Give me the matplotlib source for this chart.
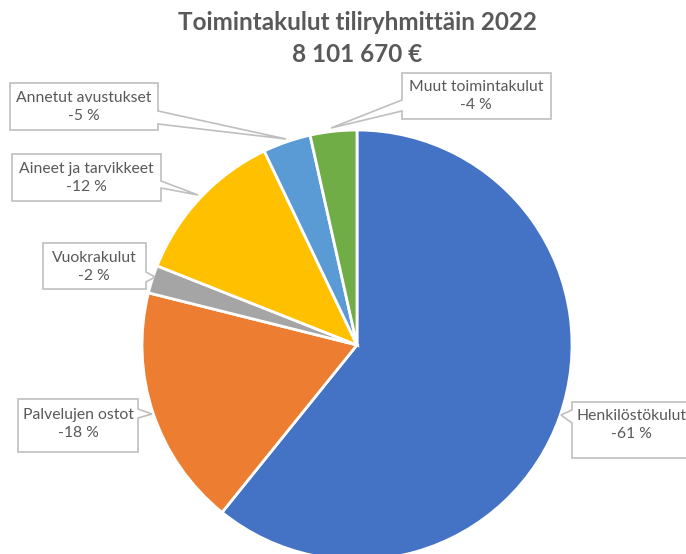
import matplotlib
matplotlib.use("Agg")
import matplotlib.pyplot as plt
from matplotlib.patches import Polygon

categories = ["Henkilöstökulut", "Palvelujen ostot", "Vuokrakulut",
              "Aineet ja tarvikkeet", "Annetut avustukset", "Muut toimintakulut"]
# slice sizes (share of total, %)
values = [60.8, 18.1, 2.1, 11.9, 3.6, 3.5]
pct_labels = ["-61 %", "-18 %", "-2 %", "-12 %", "-5 %", "-4 %"]
colors = ["#4472C4", "#ED7D31", "#A5A5A5", "#FFC000", "#5B9BD5", "#70AD47"]
title_lines = ["Toimintakulut tiliryhmittäin 2022", "8 101 670 €"]

W, H = 686, 554
fig = plt.figure(figsize=(W / 100, H / 100), dpi=100)
ax = fig.add_axes([0, 0, 1, 1])
plt.rcParams['font.family'] = ['Lato', 'DejaVu Sans']

def Y(y):
    return H - y

cx, cy, r = 357, 345, 215
ax.pie(values, colors=colors, startangle=90, counterclock=False,
       center=(cx, Y(cy)), radius=r, frame=True,
       wedgeprops=dict(edgecolor="white", linewidth=2))

ax.set_xlim(0, W)
ax.set_ylim(0, H)
ax.set_aspect("equal")
ax.set_axis_off()

txtcol = "#595959"
edgecol = "#BFBFBF"

# callout boxes (image pixel coords): polygon outline and text centre
callouts = {
    "Henkilöstökulut": ([(572, 402), (720, 402), (720, 458), (572, 458),
                         (572, 423), (561, 415), (572, 410)], (631, 425)),
    "Palvelujen ostot": ([(18, 399), (138, 399), (138, 409), (152, 414),
                          (138, 418), (138, 452), (18, 452)], (78, 424)),
    "Vuokrakulut": ([(43, 243), (146, 243), (146, 272), (155, 277),
                     (146, 282), (146, 289), (43, 289)], (94, 267)),
    "Aineet ja tarvikkeet": ([(12, 154), (161, 154), (161, 181), (198, 195),
                              (161, 188), (161, 201), (12, 201)], (86, 178)),
    "Annetut avustukset": ([(10, 83), (158, 83), (158, 111), (286, 139),
                            (158, 124), (158, 130), (10, 130)], (84, 107)),
    "Muut toimintakulut": ([(402, 73), (551, 73), (551, 119), (402, 119),
                            (402, 111), (331, 128), (402, 100)], (476, 96)),
}

for cat, pct in zip(categories, pct_labels):
    pts, (tx, ty) = callouts[cat]
    poly = Polygon([(x, Y(y)) for x, y in pts], closed=True,
                   facecolor="white", edgecolor=edgecol, linewidth=1.2,
                   zorder=5, clip_on=False)
    ax.add_patch(poly)
    ax.text(tx, Y(ty), f"{cat}\n{pct}", ha="center", va="center",
            fontsize=11.3, color=txtcol, linespacing=1.4, zorder=6)

ax.text(357, Y(23), title_lines[0], ha="center", va="center",
        fontsize=17.5, fontweight="bold", color=txtcol)
ax.text(357, Y(55), title_lines[1], ha="center", va="center",
        fontsize=17.5, fontweight="bold", color=txtcol)

fig.savefig("out.png", dpi=100)
